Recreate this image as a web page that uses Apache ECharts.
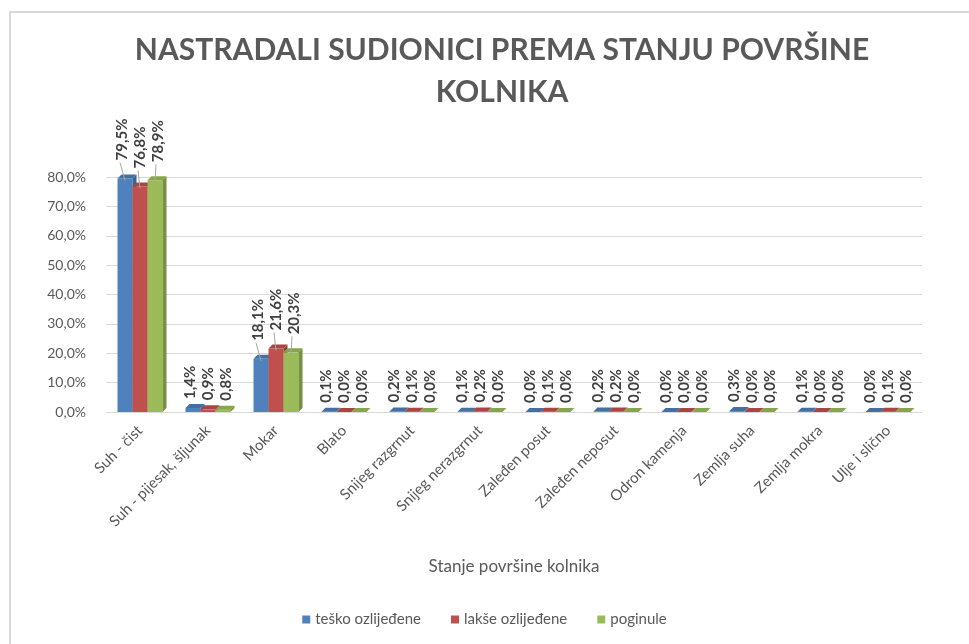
<!DOCTYPE html>
<html>
<head>
<meta charset="utf-8">
<script src="https://cdn.jsdelivr.net/npm/echarts@6/dist/echarts.min.js"></script>
<style>
    html, body { margin: 0; padding: 0; background: #fff; }
    #chart { width: 969px; height: 644px; }
</style>
</head>
<body>
<div id="chart"></div>
<script>
// Chart data
const categories = [
    'Suh - čist', 'Suh - pijesak, šljunak', 'Mokar', 'Blato', 'Snijeg razgrnut',
    'Snijeg nerazgrnut', 'Zaleđen posut', 'Zaleđen neposut', 'Odron kamenja',
    'Zemlja suha', 'Zemlja mokra', 'Ulje i slično'
]
const seriesNames = ['teško ozlijeđene', 'lakše ozlijeđene', 'poginule']
const teskoValues = [79.5, 1.4, 18.1, 0.1, 0.2, 0.1, 0.0, 0.2, 0.0, 0.3, 0.1, 0.0]
const lakseValues = [76.8, 0.9, 21.6, 0.0, 0.1, 0.2, 0.1, 0.2, 0.0, 0.0, 0.0, 0.1]
const poginuleValues = [78.9, 0.8, 20.3, 0.0, 0.0, 0.0, 0.0, 0.0, 0.0, 0.0, 0.0, 0.0]

const colors = ['#4f81bd', '#c0504d', '#9bbb59']
const sideColors = ['#3a6494', '#963c3a', '#76913f']
const topColors = ['#44709f', '#a94542', '#87a64a']

const fontFamily = 'Lato, "Open Sans", sans-serif'
const fmt = v => v.toFixed(1).replace('.', ',') + '%'

const chart = echarts.init(document.getElementById('chart'))

// 3D-ish bar: front face, top and right side, plus a rotated value label
function makeRenderItem(idx) {
    return function (params, api) {
        const cat = api.value(0)
        const val = api.value(1)
        const top = api.coord([cat, val])
        const base = api.coord([cat, 0])
        const bw = 15
        const d = 4
        const x = top[0] + (idx - 1.5) * bw
        const y1 = top[1]
        const y0 = base[1]
        const far = val > 5
        const gap = far ? 16 : 7
        const children = [
            {
                type: 'rect',
                shape: { x: x, y: y1, width: bw, height: y0 - y1 },
                style: { fill: colors[idx] }
            },
            {
                type: 'polygon',
                shape: { points: [[x, y1], [x + d, y1 - d], [x + bw + d, y1 - d], [x + bw, y1]] },
                style: { fill: topColors[idx] }
            },
            {
                type: 'polygon',
                shape: { points: [[x + bw, y1], [x + bw + d, y1 - d], [x + bw + d, y0 - d], [x + bw, y0]] },
                style: { fill: sideColors[idx] }
            },
            {
                type: 'text',
                x: x + bw / 2 + (idx - 1) * 3,
                y: y1 - gap - 2,
                rotation: Math.PI / 2,
                style: {
                    text: fmt(val),
                    fill: '#404040',
                    font: 'bold 15px ' + fontFamily,
                    align: 'left',
                    verticalAlign: 'middle'
                }
            }
        ]
        if (far) {
            children.push({
                type: 'line',
                shape: { x1: x + bw / 2 + (idx - 1) * 3 - 2, y1: y1 - gap, x2: x + bw / 2, y2: y1 + 2 },
                style: { stroke: '#a6a6a6', lineWidth: 1 }
            })
        }
        return { type: 'group', children: children }
    }
}

const allValues = [teskoValues, lakseValues, poginuleValues]

const option = {
    animation: false,
    color: colors,
    textStyle: { fontFamily: fontFamily },
    title: {
        text: 'NASTRADALI SUDIONICI PREMA STANJU POVRŠINE\nKOLNIKA',
        left: 497,
        textAlign: 'center',
        top: 24,
        textStyle: {
            fontSize: 30,
            fontWeight: 'bold',
            color: '#595959',
            lineHeight: 42,
            fontFamily: fontFamily
        }
    },
    graphic: [
        {
            type: 'rect',
            shape: { x: 10, y: 12, width: 1000, height: 700 },
            style: { fill: 'none', stroke: '#d9d9d9', lineWidth: 2 },
            silent: true
        }
    ],
    legend: {
        bottom: 12,
        left: 'center',
        itemWidth: 8,
        itemHeight: 8,
        itemGap: 30,
        icon: 'rect',
        textStyle: { fontSize: 15, color: '#595959' },
        data: seriesNames
    },
    grid: {
        left: 106,
        right: 47,
        top: 177,
        bottom: 232
    },
    xAxis: {
        type: 'category',
        data: categories,
        name: 'Stanje površine kolnika',
        nameLocation: 'middle',
        nameGap: 146,
        nameTextStyle: { fontSize: 17, color: '#595959' },
        axisLine: { lineStyle: { color: '#d9d9d9' } },
        axisTick: { show: false },
        axisLabel: {
            interval: 0,
            rotate: 45,
            fontSize: 15,
            color: '#595959',
            margin: 16
        }
    },
    yAxis: {
        type: 'value',
        min: 0,
        max: 80,
        interval: 10,
        axisLine: { show: false },
        axisTick: { show: false },
        splitLine: { lineStyle: { color: '#d9d9d9' } },
        axisLabel: {
            fontSize: 14,
            color: '#595959',
            margin: 20,
            formatter: v => fmt(v)
        }
    },
    series: seriesNames.map((name, i) => ({
        name: name,
        type: 'custom',
        itemStyle: { color: colors[i] },
        renderItem: makeRenderItem(i),
        encode: { x: 0, y: 1 },
        clip: false,
        data: allValues[i].map((v, j) => [j, v])
    }))
}

chart.setOption(option)
</script>
</body>
</html>
